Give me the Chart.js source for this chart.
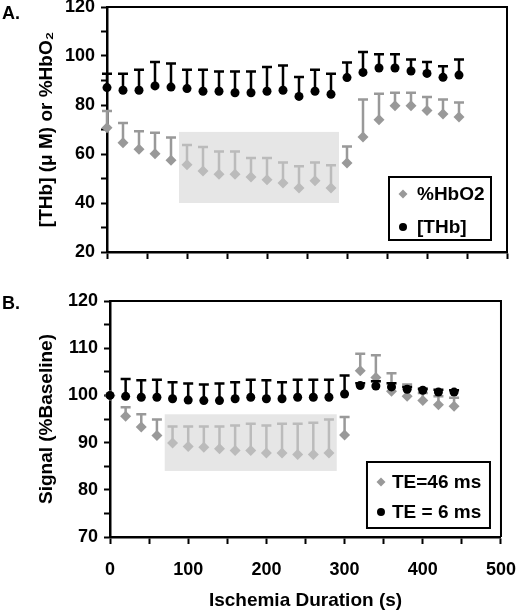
<!DOCTYPE html>
<html>
<head>
<meta charset="utf-8">
<script src="https://cdn.jsdelivr.net/npm/chart.js@4.4.1/dist/chart.umd.min.js"></script>
<style>
  body { margin: 0; background: #fff; width: 531px; height: 612px; overflow: hidden; position: relative;
         font-family: "Liberation Sans", Arial, sans-serif; }
  canvas { position: absolute; left: 0; }
  #chartA { top: -20px; }
  #chartB { top: 280px; }
  .tag { position: absolute; left: 2px; font-weight: bold; font-size: 18px; line-height: 18px; color: #000; }
</style>
</head>
<body>
<canvas id="chartA" width="531" height="300"></canvas>
<canvas id="chartB" width="531" height="332"></canvas>
<div class="tag" style="top:4px">A.</div>
<div class="tag" style="top:294px">B.</div>

<script>
// ---- data ----
const TIMES = [0, 20, 40, 60, 80, 100, 120, 140, 160, 180, 200, 220, 240, 260, 280, 300, 320, 340, 360, 380, 400, 420, 440];

// panel A
const HBO2    = [70.7, 64.6, 61.9, 60.1, 57.4, 55.6, 53.1, 51.7, 51.7, 50.6, 49.5, 48.2, 46.1, 49.1, 46.1, 56.3, 66.9, 74.0, 79.7, 79.7, 77.8, 76.3, 75.1];
const HBO2_SD = [6.9, 8.1, 7.4, 8.6, 9.3, 8.1, 9.8, 9.3, 9.3, 7.8, 8.9, 8.3, 8.9, 7.4, 9.3, 6.8, 15.3, 10.6, 5.3, 5.3, 5.5, 5.9, 5.9];
const THB     = [87.1, 86.0, 86.0, 87.8, 87.3, 86.7, 85.6, 85.6, 85.0, 85.0, 85.6, 86.0, 83.5, 85.6, 84.4, 91.2, 93.3, 95.1, 95.1, 93.9, 92.9, 91.3, 92.2];
const THB_SD  = [5.7, 6.8, 8.4, 9.8, 9.6, 7.7, 8.8, 8.1, 8.7, 8.7, 9.9, 10.1, 7.9, 8.8, 8.4, 6.1, 8.3, 5.6, 5.6, 4.7, 4.7, 4.5, 6.4];

// panel B
const TE46    = [100.0, 95.6, 93.3, 91.5, 89.9, 89.2, 89.0, 88.7, 88.3, 88.3, 87.8, 87.8, 87.5, 87.5, 87.8, 91.6, 105.2, 103.8, 100.9, 99.8, 98.9, 98.0, 97.7];
const TE46_SD = [0, 1.9, 2.7, 3.4, 3.5, 4.2, 4.4, 4.7, 5.3, 5.7, 5.8, 6.2, 6.5, 6.7, 7.1, 3.8, 3.6, 4.7, 3.8, 2.5, 1.6, 1.8, 1.8];
const TE6     = [100.0, 99.8, 99.6, 99.6, 99.3, 99.0, 98.9, 98.9, 99.3, 99.6, 99.3, 99.3, 99.6, 99.6, 99.6, 100.3, 102.1, 102.0, 101.8, 101.3, 101.1, 100.7, 100.7];
const TE6_SD  = [0, 3.7, 3.6, 3.7, 3.5, 3.5, 3.4, 3.6, 3.5, 3.7, 3.9, 3.5, 3.7, 3.7, 3.7, 3.9, 0.5, 1.0, 0.8, 0.5, 0.3, 0.5, 0.4];

// tick labels
const X_LABELS   = [0, 100, 200, 300, 400, 500];
const Y_LABELS_A = [20, 40, 60, 80, 100, 120];
const Y_LABELS_B = [70, 80, 90, 100, 110, 120];

// shaded windows (data units): [x0, x1, y0, y1]
const SHADE_A = [90, 290, 40, 69];
const SHADE_B = [70, 290, 84, 96];

const GRAY = '#999999';
const FONT = '"Liberation Sans", Arial, sans-serif';

Chart.defaults.font.family = FONT;
Chart.defaults.font.weight = 'bold';
Chart.defaults.color = '#000';

const points = ys => TIMES.map((t, i) => ({ x: t, y: ys[i] }));

// error bars (upper only), drawn just before each dataset's markers
const errorBars = {
  id: 'errorBars',
  beforeDatasetDraw(chart, args) {
    const ds = chart.data.datasets[args.index];
    if (!ds.sd) return;
    const { x, y } = chart.scales;
    const ctx = chart.ctx;
    ctx.save();
    ctx.strokeStyle = ds.backgroundColor;
    ctx.lineWidth = 2.5;
    ds.data.forEach((p, i) => {
      const e = ds.sd[i];
      if (!e) return;
      const px = x.getPixelForValue(p.x);
      const py = y.getPixelForValue(p.y);
      const pt = y.getPixelForValue(p.y + e);
      ctx.beginPath();
      ctx.moveTo(px, py);
      ctx.lineTo(px, pt);
      ctx.moveTo(px - 5, pt);
      ctx.lineTo(px + 5, pt);
      ctx.stroke();
    });
    ctx.restore();
  }
};

// shaded box, frame and boxed legend
const decor = {
  id: 'decor',
  afterDatasetsDraw(chart, args, opts) {
    const { ctx, chartArea: ca } = chart;
    const { x, y } = chart.scales;
    const s = opts.shade;
    ctx.save();
    ctx.fillStyle = 'rgba(212,212,212,0.58)';
    const x0 = x.getPixelForValue(s[0]), x1 = x.getPixelForValue(s[1]);
    const y0 = y.getPixelForValue(s[3]), y1 = y.getPixelForValue(s[2]);
    ctx.fillRect(x0, y0, x1 - x0, y1 - y0);

    // top and right frame
    ctx.strokeStyle = '#000';
    ctx.lineWidth = 2;
    ctx.beginPath();
    ctx.moveTo(ca.left, ca.top);
    ctx.lineTo(ca.right, ca.top);
    ctx.lineTo(ca.right, ca.bottom);
    ctx.stroke();

    // legend
    const L = opts.legend;
    const bx = ca.right - L.right - L.w, by = ca.bottom - L.bottom - L.h;
    ctx.fillStyle = '#fff';
    ctx.fillRect(bx, by, L.w, L.h);
    ctx.strokeRect(bx, by, L.w, L.h);
    ctx.font = 'bold 19px ' + FONT;
    ctx.textBaseline = 'middle';
    L.items.forEach((idx, k) => {
      const ds = chart.data.datasets[idx];
      const cy = by + L.rows[k];
      const mx = bx + L.mark;
      ctx.fillStyle = ds.backgroundColor;
      ctx.beginPath();
      if (ds.pointStyle === 'circle') ctx.arc(mx, cy, 4, 0, Math.PI * 2);
      else { ctx.moveTo(mx - 4.5, cy); ctx.lineTo(mx, cy - 4.5); ctx.lineTo(mx + 4.5, cy); ctx.lineTo(mx, cy + 4.5); ctx.closePath(); }
      ctx.fill();
      ctx.fillStyle = '#000';
      ctx.fillText(ds.label, bx + L.text, cy + 1);
    });
    ctx.restore();
  }
};

function makeChart(id, cfg) {
  return new Chart(document.getElementById(id), {
    type: 'scatter',
    data: {
      datasets: [
        { label: cfg.grayLabel, data: points(cfg.gray), sd: cfg.graySd, order: 1, clip: false,
          pointStyle: 'rectRot', radius: 5.5, backgroundColor: GRAY, borderWidth: 0 },
        { label: cfg.blackLabel, data: points(cfg.black), sd: cfg.blackSd, order: 0, clip: false,
          pointStyle: 'circle', radius: 4.5, backgroundColor: '#000', borderWidth: 0 }
      ]
    },
    options: {
      responsive: false,
      animation: false,
      layout: { padding: { top: cfg.padTop, right: 24, left: 0, bottom: 0 } },
      plugins: {
        legend: { display: false },
        tooltip: { enabled: false },
        decor: { shade: cfg.shade, legend: cfg.legend }
      },
      scales: {
        x: {
          type: 'linear', min: 0, max: 500,
          afterFit: s => { s.height = cfg.xHeight; },
          ticks: {
            stepSize: 50, padding: 15, maxRotation: 0, autoSkip: false,
            font: { size: 18, weight: 'bold' },
            callback: v => (cfg.xLabels && X_LABELS.includes(v)) ? v : ''
          },
          grid: { drawOnChartArea: false, drawTicks: true, tickLength: 7, tickWidth: 2, tickColor: '#000' },
          border: { display: true, color: '#000', width: 2.5 },
          title: cfg.xLabels ? { display: true, text: 'Ischemia Duration (s)', font: { size: 19, weight: 'bold' },
                                 padding: { top: 0, bottom: 0 } } : { display: false }
        },
        y: {
          min: cfg.yMin, max: cfg.yMax,
          afterFit: s => { s.width = cfg.yWidth; },
          ticks: {
            stepSize: cfg.yStep, padding: 6, autoSkip: false,
            font: { size: 18, weight: 'bold' },
            callback: v => cfg.yLabels.includes(v) ? v : ''
          },
          grid: { drawOnChartArea: false, drawTicks: true, tickLength: 6, tickWidth: 2, tickColor: '#000' },
          border: { display: true, color: '#000', width: 2.5 },
          title: { display: true, text: cfg.yTitle, font: { size: 19, weight: 'bold' }, padding: { top: 35, bottom: 0 } }
        }
      }
    },
    plugins: [errorBars, decor]
  });
}

makeChart('chartA', {
  gray: HBO2, graySd: HBO2_SD, grayLabel: '%HbO2',
  black: THB, blackSd: THB_SD, blackLabel: '[THb]',
  yMin: 20, yMax: 120, yStep: 10, yLabels: Y_LABELS_A, yTitle: '[THb] (μ M) or %HbO₂',
  yWidth: 107, padTop: 27, xHeight: 28, xLabels: false,
  shade: SHADE_A,
  legend: { w: 102, h: 63, right: 16, bottom: 12, mark: 14, text: 28, rows: [17, 50], items: [0, 1] }
});

makeChart('chartB', {
  gray: TE46, graySd: TE46_SD, grayLabel: 'TE=46 ms',
  black: TE6, blackSd: TE6_SD, blackLabel: 'TE = 6 ms',
  yMin: 70, yMax: 120, yStep: 5, yLabels: Y_LABELS_B, yTitle: 'Signal (%Baseline)',
  yWidth: 110, padTop: 21, xHeight: 75, xLabels: true,
  shade: SHADE_B,
  legend: { w: 123, h: 66, right: 11, bottom: 9, mark: 14, text: 25, rows: [20, 50], items: [0, 1] }
});
</script>
</body>
</html>
